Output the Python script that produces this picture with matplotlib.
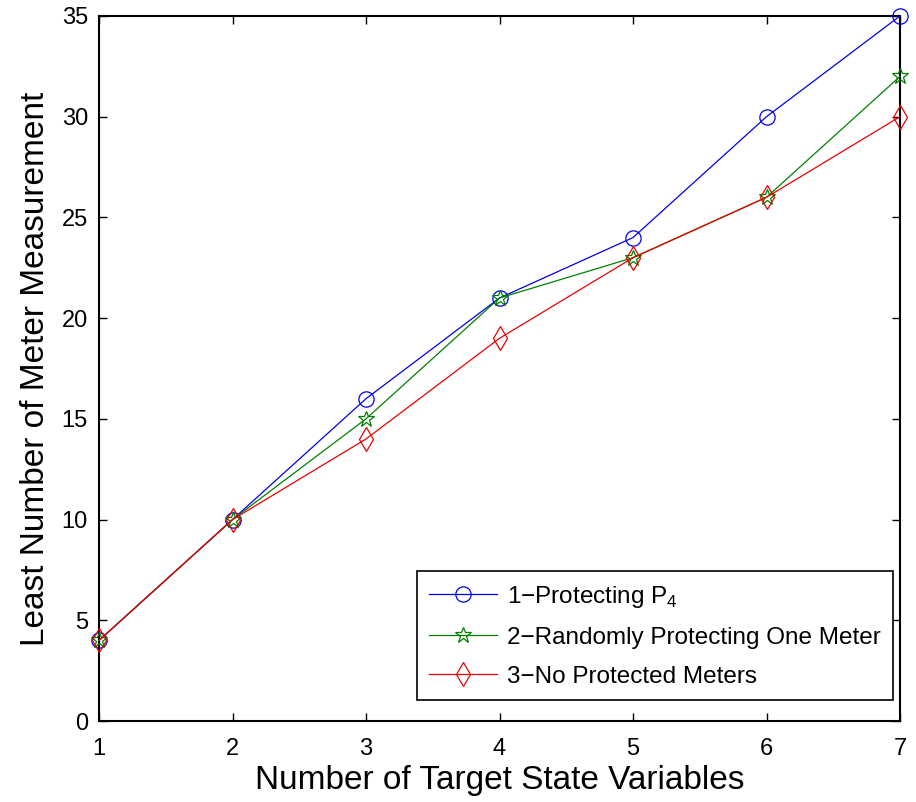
import matplotlib
matplotlib.use("Agg")
import matplotlib.pyplot as plt

plt.rcParams['font.family'] = ['Liberation Sans', 'DejaVu Sans']
plt.rcParams['mathtext.fontset'] = 'custom'
plt.rcParams['mathtext.rm'] = 'Liberation Sans'

x = [1, 2, 3, 4, 5, 6, 7]
protecting_p4 = [4, 10, 16, 21, 24, 30, 35]
random_one = [4, 10, 15, 21, 23, 26, 32]
no_protected = [4, 10, 14, 19, 23, 26, 30]
labels = ['1\u2212Protecting P$_4$', '2\u2212Randomly Protecting One Meter', '3\u2212No Protected Meters']

fig = plt.figure(figsize=(9.16, 8.02), dpi=100)
ax = fig.add_axes([99/916, 81/802, 801/916, 705/802])

ax.plot(x, protecting_p4, color='#0000ee', lw=0.9, marker='o', ms=11, mfc='none', mec='#0000ee', mew=0.9, label=labels[0], clip_on=False, zorder=3)
ax.plot(x, random_one, color='#008000', lw=0.9, marker='*', ms=12, mfc='none', mec='#008000', mew=0.9, label=labels[1], clip_on=False, zorder=3)
ax.plot(x, no_protected, color='#ee0000', lw=0.9, marker='d', ms=12, mfc='none', mec='#ee0000', mew=0.9, label=labels[2], clip_on=False, zorder=3)

ax.set_xlim(1, 7)
ax.set_ylim(0, 35)
ax.set_xticks(x)
ax.set_yticks(range(0, 36, 5))
ax.tick_params(direction='in', top=True, right=True, labelsize=17, length=6, width=1)
ax.tick_params(axis='x', pad=12)
ax.tick_params(axis='y', pad=8)
for s in ax.spines.values():
    s.set_linewidth(1.5)
ax.set_xlabel('Number of Target State Variables', fontsize=24, labelpad=4)
ax.set_ylabel('Least Number of Meter Measurement', fontsize=24, labelpad=8)

leg = ax.legend(loc='lower right', bbox_to_anchor=(0.991, 0.030), borderaxespad=0, fontsize=17.5,
                fancybox=False, framealpha=1, edgecolor='black', borderpad=0.5, handlelength=2.8,
                handletextpad=0.4, labelspacing=0.7)
leg.get_frame().set_linewidth(1.2)

fig.savefig('out.png', dpi=100)
